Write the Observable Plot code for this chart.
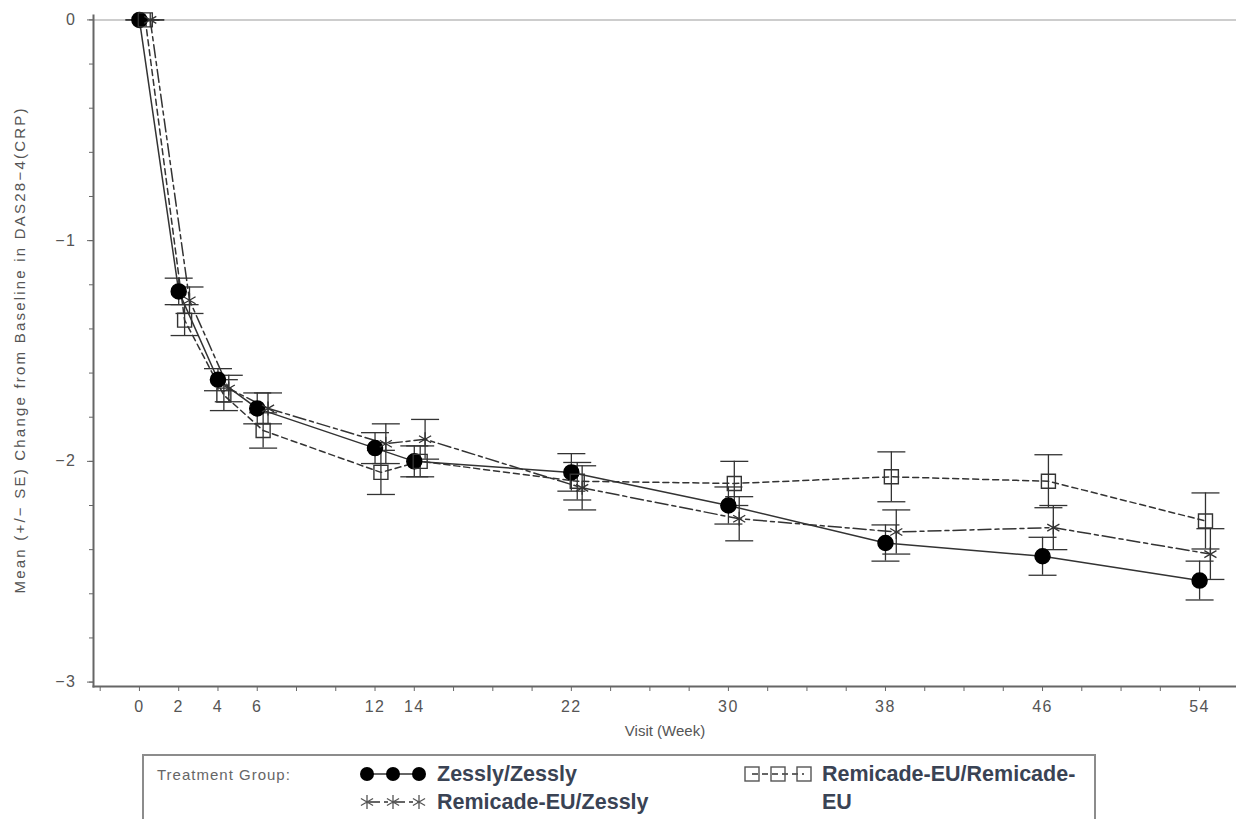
<!DOCTYPE html>
<html>
<head>
<meta charset="utf-8">
<script src="https://cdn.jsdelivr.net/npm/d3@7"></script>
<script src="https://cdn.jsdelivr.net/npm/@observablehq/plot@0.6"></script>
<style>
  html, body { margin: 0; padding: 0; background: #fff; }
  #wrap { position: relative; width: 1236px; height: 819px; overflow: hidden; }
  #legend { position: absolute; left: 142px; top: 754px; width: 954px; height: 70px;
            border: 2px solid #8c8c8c; box-sizing: border-box; background: #fff; }
</style>
</head>
<body>
<div id="wrap"><div id="chart"></div><div id="legend"></div></div>
<script>
// ---- data ----
const weeks = [0, 2, 4, 6, 12, 14, 22, 30, 38, 46, 54];
const groups = ["Zessly/Zessly", "Remicade-EU/Zessly", "Remicade-EU/Remicade-EU"];
const zesslyMean   = [0, -1.23, -1.63, -1.76, -1.94, -2.00, -2.05, -2.20, -2.37, -2.43, -2.54];
const zesslySE     = [0, 0.06, 0.05, 0.07, 0.07, 0.07, 0.085, 0.084, 0.082, 0.086, 0.088];
const remZesMean   = [0, -1.27, -1.67, -1.76, -1.92, -1.90, -2.12, -2.26, -2.32, -2.30, -2.42];
const remZesSE     = [0, 0.06, 0.06, 0.07, 0.09, 0.09, 0.10, 0.10, 0.10, 0.10, 0.115];
const remRemMean   = [0, -1.36, -1.70, -1.86, -2.05, -2.00, -2.09, -2.10, -2.07, -2.09, -2.27];
const remRemSE     = [0, 0.07, 0.07, 0.08, 0.10, 0.07, 0.085, 0.10, 0.113, 0.12, 0.127];
const yTickLabels = [0, -1, -2, -3];
const xLabel = "Visit (Week)";
const yLabel = "Mean (+/\u2212 SE) Change from Baseline in DAS28\u22124(CRP)";
const legendTitle = "Treatment Group:";

// ---- styling / layout config ----
const dodge = {"Zessly/Zessly": 0, "Remicade-EU/Zessly": 0.55, "Remicade-EU/Remicade-EU": 0.3};
const dash = {"Zessly/Zessly": null, "Remicade-EU/Zessly": "13,4,4,4", "Remicade-EU/Remicade-EU": "6,4"};
const ink = "#333";
const font = "Liberation Sans, Arial, sans-serif";

const series = [
  [groups[0], zesslyMean, zesslySE],
  [groups[1], remZesMean, remZesSE],
  [groups[2], remRemMean, remRemSE]
];
const rows = series.flatMap(([g, m, s]) => weeks.map((w, i) => ({
  group: g, week: w, x: w + dodge[g], mean: m[i], lo: m[i] - s[i], hi: m[i] + s[i]
})));
const caps = rows.flatMap(d => [{x: d.x, y: d.lo}, {x: d.x, y: d.hi}]);

// custom symbols
const capSym = {draw(ctx, size) { const r = Math.sqrt(size / Math.PI); ctx.moveTo(-r, 0); ctx.lineTo(r, 0); }};
const squareSym = {draw(ctx, size) { const r = Math.sqrt(size / Math.PI); ctx.moveTo(-r, -r); ctx.lineTo(r, -r); ctx.lineTo(r, r); ctx.lineTo(-r, r); ctx.closePath(); }};
const starSym = {draw(ctx, size) {
  const r = Math.sqrt(size / Math.PI);
  ctx.moveTo(0, -r); ctx.lineTo(0, r);
  const a = r * Math.cos(Math.PI / 6), b = r * Math.sin(Math.PI / 6);
  ctx.moveTo(-a, -b); ctx.lineTo(a, b);
  ctx.moveTo(-a, b); ctx.lineTo(a, -b);
}};

const xTicks = d3.range(-2, 56, 2);
const yMinor = d3.range(-15, 1).map(k => +(k * 0.2).toFixed(1));
const weekSet = new Set(weeks);
const fmtY = d => d === 0 ? "0" : "\u2212" + Math.abs(d);

const byGroup = g => rows.filter(d => d.group === g);

const chart = Plot.plot({
  width: 1236, height: 750,
  marginLeft: 93, marginRight: 0, marginTop: 15, marginBottom: 64,
  x: {domain: [-2.34, 55.88]},
  y: {domain: [-3.02, 0.02]},
  style: {fontFamily: font, fontSize: "15px", color: "#555", background: "#fff"},
  marks: [
    Plot.ruleY([0], {stroke: "#bcbcbc", strokeWidth: 1.5}),
    Plot.axisY({ticks: yMinor, tickSize: 4, tickFormat: () => "", stroke: "#666", label: null}),
    Plot.axisY({ticks: yTickLabels, tickSize: 6, tickPadding: 11, tickFormat: fmtY, stroke: "#666", fill: "#555", fontSize: 16, label: null}),
    Plot.axisX({ticks: xTicks, tickSize: 5, tickPadding: 9, tickFormat: d => weekSet.has(d) ? String(d) : "", stroke: "#666", fill: "#555", fontSize: 16, label: null}),
    Plot.frame({anchor: "left", stroke: "#666", strokeWidth: 2}),
    Plot.frame({anchor: "bottom", stroke: "#666", strokeWidth: 2}),
    Plot.text([xLabel], {frameAnchor: "bottom", dy: 49, fill: "#555", fontSize: 15}),
    Plot.text([yLabel], {frameAnchor: "left", textAnchor: "middle", dx: -73, rotate: -90, fill: "#555", fontSize: 15}),
    ...groups.map(g => Plot.line(byGroup(g), {x: "x", y: "mean", stroke: ink, strokeWidth: 1.5, strokeDasharray: dash[g]})),
    Plot.ruleX(rows, {x: "x", y1: "lo", y2: "hi", stroke: ink, strokeWidth: 1.3}),
    Plot.dot(caps, {x: "x", y: "y", symbol: capSym, r: 14, stroke: ink, strokeWidth: 1.3}),
    Plot.dot(byGroup(groups[0]), {x: "x", y: "mean", r: 7.5, fill: "#000", stroke: "#000"}),
    Plot.dot(byGroup(groups[1]), {x: "x", y: "mean", symbol: starSym, r: 7, stroke: ink, strokeWidth: 1.3}),
    Plot.dot(byGroup(groups[2]), {x: "x", y: "mean", symbol: squareSym, r: 7, stroke: ink, strokeWidth: 1.4, fill: "none"})
  ]
});
document.getElementById("chart").appendChild(chart);
// stretch the rotated y label to the reference's length, and space out tick digits
chart.querySelectorAll("text").forEach(t => {
  if (t.textContent === yLabel) { t.setAttribute("textLength", 485); t.setAttribute("lengthAdjust", "spacing"); }
});
chart.querySelectorAll('g[aria-label="x-axis tick label"] text, g[aria-label="y-axis tick label"] text')
  .forEach(t => t.style.letterSpacing = "1.5px");

// ---- legend ----
const lg = d3.select("#legend").append("svg").attr("width", 950).attr("height", 66)
  .style("display", "block").style("font-family", font);
const ox = 144, oy = 756; // legend origin in page coords
lg.append("text").attr("x", 157 - ox).attr("y", 780 - oy).attr("fill", "#666").attr("font-size", 15)
  .attr("letter-spacing", "1px").text(legendTitle);
function legendEntry(px, py, g, label1, label2) {
  const xs = [px, px + 26, px + 52];
  lg.append("line").attr("x1", xs[0] - ox).attr("x2", xs[2] - ox).attr("y1", py - oy).attr("y2", py - oy)
    .attr("stroke", ink).attr("stroke-width", 1.5).attr("stroke-dasharray", dash[g]);
  xs.forEach(x => {
    const cx = x - ox, cy = py - oy;
    if (g === groups[0]) lg.append("circle").attr("cx", cx).attr("cy", cy).attr("r", 7).attr("fill", "#000");
    else if (g === groups[2]) lg.append("rect").attr("x", cx - 7).attr("y", cy - 7).attr("width", 14).attr("height", 14)
      .attr("fill", "none").attr("stroke", "#555").attr("stroke-width", 1.4);
    else {
      const p = d3.path(); starSym.draw(p, Math.PI * 49);
      lg.append("path").attr("transform", `translate(${cx},${cy})`).attr("d", p.toString()).attr("stroke", "#555").attr("stroke-width", 1.3).attr("fill", "none");
    }
  });
  const tx = px + 70 - ox;
  lg.append("text").attr("x", tx).attr("y", py + 7 - oy).attr("fill", "#3a4354").attr("font-size", 21.5).attr("font-weight", "bold").text(label1);
  if (label2) lg.append("text").attr("x", tx).attr("y", py + 35 - oy).attr("fill", "#3a4354").attr("font-size", 21.5).attr("font-weight", "bold").text(label2);
}
legendEntry(367, 774, groups[0], "Zessly/Zessly");
legendEntry(367, 802, groups[1], "Remicade-EU/Zessly");
legendEntry(752, 774, groups[2], "Remicade-EU/Remicade-", "EU");
</script>
</body>
</html>
